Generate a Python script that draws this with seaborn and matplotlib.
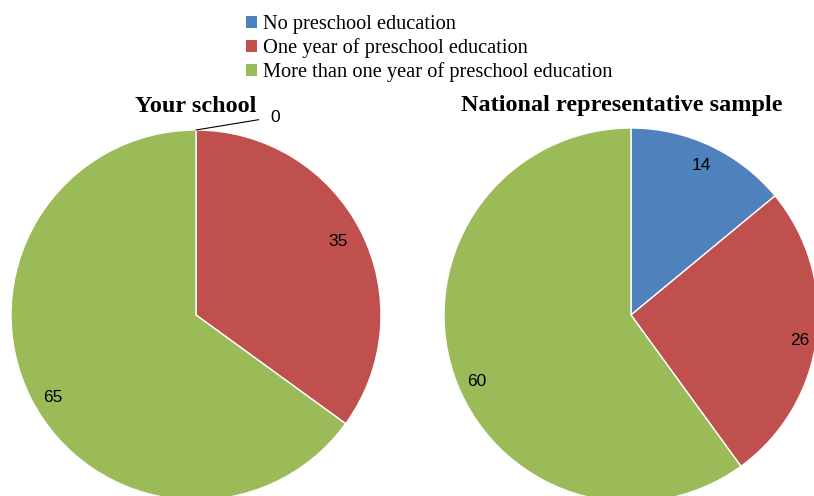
import matplotlib
matplotlib.use("Agg")
import matplotlib.pyplot as plt
import seaborn as sns
from matplotlib.patches import Patch

categories = ["No preschool education",
              "One year of preschool education",
              "More than one year of preschool education"]
school_values = [0, 35, 65]
national_values = [14, 26, 60]
titles = ["Your school", "National representative sample"]

sns.set_theme(style="white")
plt.rcParams['font.family'] = ['Liberation Serif', 'DejaVu Serif']
plt.rcParams['text.color'] = 'black'
colors = ["#4F81BD", "#C0504D", "#9BBB59"]

W, H = 814, 496
fig = plt.figure(figsize=(W / 100, H / 100), dpi=100)
ax = fig.add_axes([0, 0, 1, 1])

lbl_family = ['Liberation Sans', 'DejaVu Sans']

def draw_pie(values, center, radius, nudges):
    labels = [str(v) if v > 0 else "" for v in values]
    _, texts = ax.pie(values, colors=colors, labels=labels, labeldistance=0.89,
                      startangle=90, counterclock=False, center=center, radius=radius,
                      frame=True, wedgeprops=dict(edgecolor="white", linewidth=1),
                      textprops=dict(ha="center", va="center", family=lbl_family,
                                     fontsize=12.5, color="black"))
    for t, (dx, dy) in zip(texts, nudges):
        x, y = t.get_position()
        t.set_position((x + dx, y - dy))

draw_pie(school_values, (196, H - 315), 185, [(0, 0), (-5, 1), (4, 8)])
draw_pie(national_values, (631, H - 315), 187, [(-1, 1), (4, 5), (4, 15)])

# zero-valued slice label with leader line
ax.annotate(str(school_values[0]), xy=(196, H - 130), xytext=(275, H - 117),
            ha="center", va="center", fontsize=12.5, family=lbl_family, color="black",
            arrowprops=dict(arrowstyle="-", color="black", lw=0.8,
                            shrinkA=6, shrinkB=0))

ax.text(196, H - 106, titles[0], ha="center", va="center",
        fontsize=17.5, fontweight="bold", color="black")
ax.text(622, H - 105, titles[1], ha="center", va="center",
        fontsize=17.5, fontweight="bold", color="black")

ax.set_xlim(0, W)
ax.set_ylim(0, H)
ax.set_aspect("equal")
ax.axis("off")

handles = [Patch(facecolor=c, edgecolor="none") for c in colors]
fig.legend(handles, categories, loc="upper left", bbox_to_anchor=(246 / W, 1 - 15 / H),
           frameon=False, fontsize=14.7, handlelength=0.55, handleheight=0.55,
           handletextpad=0.3, labelspacing=0.2, borderpad=0, borderaxespad=0)

fig.savefig("out.png", dpi=100)
